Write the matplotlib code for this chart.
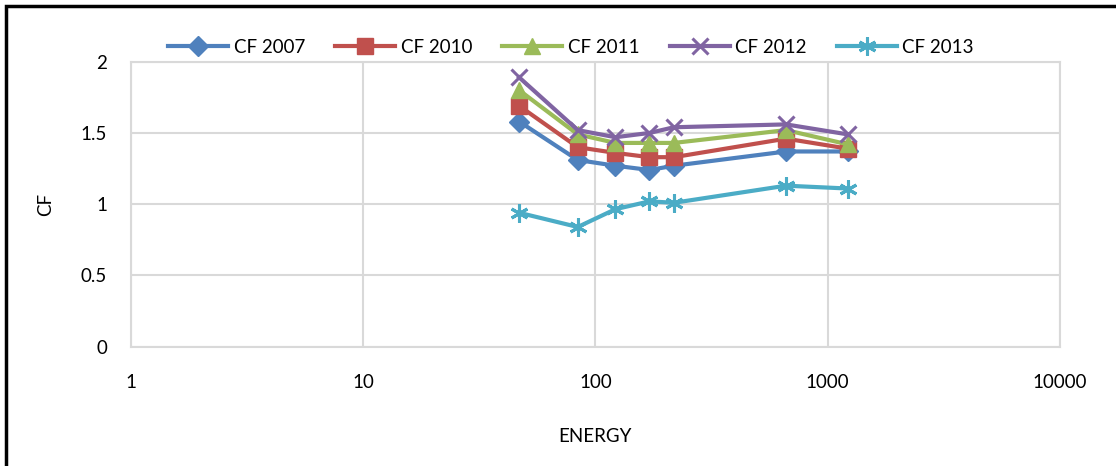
import matplotlib.pyplot as plt
from matplotlib.ticker import FixedLocator, FixedFormatter, NullLocator
from matplotlib.patches import Rectangle

plt.rcParams['font.family'] = ['Lato', 'DejaVu Sans']

energy = [47, 84, 122, 171, 218, 662, 1220]
cf_2007 = [1.58, 1.31, 1.27, 1.24, 1.27, 1.37, 1.37]
cf_2010 = [1.69, 1.40, 1.36, 1.33, 1.33, 1.46, 1.39]
cf_2011 = [1.80, 1.49, 1.43, 1.43, 1.43, 1.52, 1.42]
cf_2012 = [1.89, 1.52, 1.47, 1.50, 1.54, 1.56, 1.49]
cf_2013 = [0.94, 0.84, 0.965, 1.02, 1.01, 1.13, 1.11]

series = [
    ('CF 2007', cf_2007, '#4F81BD', 'D', 10),
    ('CF 2010', cf_2010, '#C0504D', 's', 11),
    ('CF 2011', cf_2011, '#9BBB59', '^', 12),
    ('CF 2012', cf_2012, '#8064A2', 'x', 12),
    ('CF 2013', cf_2013, '#4BACC6', (6, 2, 0), 13),
]

fig = plt.figure(figsize=(11.16, 4.66), dpi=100)
ax = fig.add_axes([0.1171, 0.256, 0.8327, 0.6116])

for name, vals, col, mk, ms in series:
    ax.plot(energy, vals, color=col, lw=3, marker=mk, markersize=ms,
            markeredgewidth=2.2 if mk in ('x', (6, 2, 0)) else 1,
            markeredgecolor=col, markerfacecolor=col, label=name)

ax.set_xscale('log')
ax.set_xlim(1, 10000)
ax.set_ylim(0, 2)
ax.xaxis.set_major_locator(FixedLocator([1, 10, 100, 1000, 10000]))
ax.xaxis.set_major_formatter(FixedFormatter(['1', '10', '100', '1000', '10000']))
ax.xaxis.set_minor_locator(NullLocator())
ax.set_yticks([0, 0.5, 1, 1.5, 2])
ax.set_yticklabels(['0', '0.5', '1', '1.5', '2'])

ax.grid(True, color='#d9d9d9', lw=1.5)
ax.set_axisbelow(True)
for s in ax.spines.values():
    s.set_color('#d9d9d9')
    s.set_linewidth(1.5)
ax.tick_params(length=0, labelsize=13.5, colors='black')
ax.tick_params(axis='y', pad=17)
ax.tick_params(axis='x', pad=20)

ax.set_xlabel('ENERGY', fontsize=13.5, labelpad=26)
ax.set_ylabel('CF', fontsize=13.5, labelpad=19)

ax.legend(loc='lower center', bbox_to_anchor=(0.474, 0.995), ncol=5, frameon=False,
          fontsize=13.5, handlelength=3.2, columnspacing=1.6, handletextpad=0.3,
          borderaxespad=0)

# outer chart border (left and top)
fig.patches.append(Rectangle((6 / 1116, -0.1), 1.2, 1.1 - 6 / 466, transform=fig.transFigure,
                             fill=False, edgecolor='black', lw=2.5))

fig.savefig('out.png', dpi=100)
